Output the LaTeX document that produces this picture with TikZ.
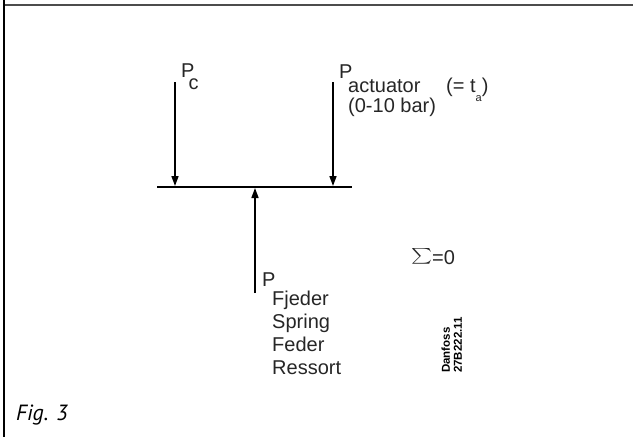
\documentclass[tikz,border=0pt]{standalone}
\usepackage{fontspec}
\setmainfont{Liberation Sans}
\newfontfamily\figfont{PT Sans}
\usetikzlibrary{arrows.meta}
\tikzset{
  lbl/.style={anchor=base west, inner sep=0pt, font=\fontsize{20}{23}\selectfont, text=black!85},
  force/.style={line width=1.6pt, -{Triangle[length=10pt,width=7pt]}},
  frame/.style={line width=2.7pt, black},
  topline/.style={line width=2pt, black!70},
}
\begin{document}
\begin{tikzpicture}[x=1pt,y=-1pt]
\path[use as bounding box] (0,0) rectangle (633,437);
% frame
\draw[frame] (4,0) -- (4,437);
\draw[topline] (5.3,5) -- (633,5);
% beam
\coordinate (bl) at (157,187);
\coordinate (br) at (352,187);
\draw[line width=2pt] (bl) -- (br);
% forces
\coordinate (cTop) at (175,82);
\coordinate (cEnd) at (175,186);
\coordinate (aTop) at (333,82);
\coordinate (aEnd) at (333,186);
\coordinate (sBot) at (255,293);
\coordinate (sEnd) at (255,188);
\draw[force] (cTop) -- (cEnd);
\draw[force] (aTop) -- (aEnd);
\draw[force] (sBot) -- (sEnd);
% labels
\node[lbl] (pc) at (181,77) {P};
\node[lbl] (pcs) at (188.5,89) {c};
\node[lbl] (pa) at (339,78) {P};
\node[lbl] (pas) at (348,92) {actuator};
\node[lbl] (ta) at (446,92) {(= t\raisebox{-9pt}{\fontsize{11}{11}\selectfont a})};
\node[lbl] (range) at (348,112) {(0-10 bar)};
\node[lbl] (pf) at (262,286) {P};
\node[lbl] (f1) at (272,305) {Fjeder};
\node[lbl] (f2) at (272,328) {Spring};
\node[lbl] (f3) at (272,351) {Feder};
\node[lbl] (f4) at (272,374) {Ressort};
\node[lbl] (sum) at (411,264) {\resizebox{21pt}{16pt}{$\textstyle\sum$}=0};
\node[rotate=90, anchor=south west, inner sep=0pt, align=left,
      font=\bfseries\fontsize{11.5}{12}\selectfont] (ref) at (462,373) {Danfoss\\27B222.11};
\node[anchor=base west, inner sep=0pt, font=\figfont\itshape\fontsize{22}{22}\selectfont] (fig) at (16,420) {Fig. 3};
\end{tikzpicture}
\end{document}
